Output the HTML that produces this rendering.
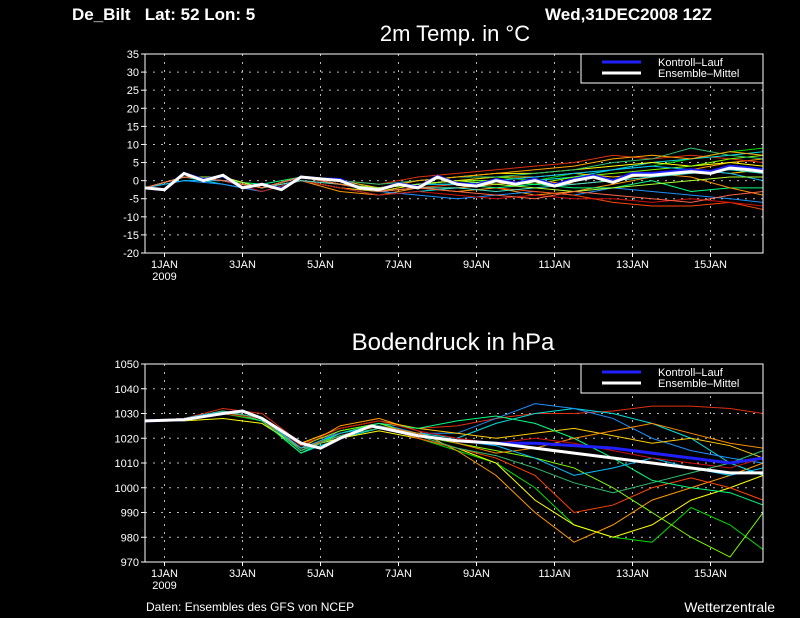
<!DOCTYPE html>
<html><head><meta charset="utf-8"><style>
body{margin:0;background:#000;width:800px;height:618px;overflow:hidden}
svg{display:block}
text{font-family:"Liberation Sans","DejaVu Sans",sans-serif;fill:#fff}
</style></head><body>
<svg id="chart" width="800" height="618">
<text x="72" y="20" font-size="17" font-weight="bold" style="white-space:pre">De_Bilt   Lat: 52 Lon: 5</text>
<text x="545" y="20" font-size="17" font-weight="bold">Wed,31DEC2008 12Z</text>
<text x="455" y="41" font-size="22" text-anchor="middle">2m Temp. in °C</text>
<text x="453" y="350" font-size="24" text-anchor="middle">Bodendruck in hPa</text>
<text x="146" y="611" font-size="12">Daten: Ensembles des GFS von NCEP</text>
<text x="775" y="612" font-size="14" text-anchor="end">Wetterzentrale</text>
<g id="p1"></g>
<g id="p2"></g>
</svg>
<script>
const tickDays=[0.5,2.5,4.5,6.5,8.5,10.5,12.5,14.5];
const tickLabels=["1JAN","3JAN","5JAN","7JAN","9JAN","11JAN","13JAN","15JAN"];
const memberDays=[0,1,2,3,4,5,6,7,8,9,10,11,12,13,14,15,15.85];
const memberColors=["#00e000","#ff9900","#e03010","#00e0e0","#ffff00","#1e90ff","#ff4500","#80ff00","#ffcc00","#00ff80","#ff8c00","#00bfff","#d01010","#30c070","#ffa500","#40e0d0","#adff2f","#ff6347"];
const tempTicks=[35,30,25,20,15,10,5,0,-5,-10,-15,-20];
const tempMeanDays=[0,0.5,1,1.5,2,2.5,3,3.5,4,4.5,5,5.5,6,6.5,7,7.5,8,8.5,9,9.5,10,10.5,11,11.5,12,12.5,13,13.5,14,14.5,15,15.5,15.85];
const tempMean=[-2,-2.5,2,0,1.5,-2,-1,-2.5,1,0.5,0,-2,-2.5,-1,-2,1,-1,-1.5,0,-1,0,-1.5,0,1,-0.5,1.5,1.5,2,2.5,2,3.5,3,2.5];
const tempControl=[-2,-2.5,2,0.3,1.3,-2,-1,-2.3,1,0.5,0.3,-2,-2.5,-0.8,-1.8,1.2,-0.8,-1.2,0.3,-0.7,0.4,-1.2,0.4,1.4,0,2,2,2.5,3,2.5,4,3.5,3];
const tempMembers=[
[-2,1,0,-2,1,-1,-3,-1,0,1,0,2,3,4,6,8,9],
[-2,1,0,-2,0,-3,-4,-2,-3,-2,-4,-3,-1,1,3,5,6],
[-2,1,1,-2,1,0,-1,1,2,3,4,5,7,6,7,6,5],
[-2,1,-1,-3,0,-2,-4,-3,-2,-1,0,1,3,5,6,7,8],
[-2,1,0,-2,1,-1,-2,0,1,2,2,3,4,5,4,5,4],
[-2,0,-1,-3,0,-2,-3,-4,-5,-4,-3,-4,-2,-3,-4,-5,-6],
[-2,1,0,-2,0,-1,-3,-2,-1,-2,-3,-4,-6,-7,-7,-6,-8],
[-2,1,0,-2,1,-1,-2,-1,0,0,-1,1,2,3,4,6,7],
[-2,1,0,-2,0,-2,-3,-1,0,1,1,2,1,2,3,2,3],
[-2,1,0,-1,1,0,-2,-1,-1,-2,-1,-2,-2,0,-3,-2,-2],
[-2,1,1,-2,1,-1,-3,-2,-2,-1,0,-1,0,2,1,-2,-4],
[-2,0,0,-2,1,-1,-2,-1,-1,0,1,2,3,4,3,2,0],
[-2,1,0,-3,0,-2,-4,-3,-4,-5,-4,-5,-5,-6,-5,-6,-7],
[-2,1,0,-2,1,0,-1,0,1,1,2,3,5,6,9,7,6],
[-2,1,0,-2,1,0,-2,0,1,2,3,4,6,7,6,8,7],
[-2,1,0,-2,0,-1,-3,-2,-2,-3,-2,-1,0,1,2,3,2],
[-2,1,1,-2,1,-1,-2,-1,0,-1,-2,-3,-2,-1,0,1,1],
[-2,1,0,-2,1,-1,-3,-2,-3,-4,-5,-3,-4,-5,-6,-4,-3]];
const presTicks=[1050,1040,1030,1020,1010,1000,990,980,970];
const presMeanDays=[0,1,2,2.5,3,4,4.5,5,5.8,7,8,9,10,11,12,13,14,15,15.85];
const presMean=[1027,1027.5,1030,1031,1028,1018,1016,1020,1025,1021,1019,1018,1016,1014,1012,1010,1008,1006,1006];
const presControl=[1027,1027.5,1030,1031,1028,1018,1016,1020,1025,1021,1019,1018,1018,1017,1016,1014,1012,1010,1012];
const presMembers=[
[1027,1028,1030,1027,1015,1022,1025,1020,1015,1010,1000,985,980,978,992,985,975],
[1027,1028,1031,1028,1016,1025,1028,1023,1015,1005,990,978,985,995,1000,1005,1010],
[1027,1028,1032,1030,1018,1022,1026,1024,1025,1028,1030,1030,1031,1033,1033,1032,1030],
[1027,1027,1031,1027,1014,1020,1024,1022,1020,1026,1030,1032,1030,1026,1020,1010,1005],
[1027,1027,1028,1026,1016,1020,1023,1020,1016,1010,995,985,980,985,995,1000,1005],
[1027,1028,1031,1028,1015,1023,1026,1022,1022,1028,1034,1032,1028,1020,1015,1012,1010],
[1027,1028,1031,1027,1016,1021,1025,1020,1016,1012,1005,990,993,1000,1004,1000,995],
[1027,1028,1030,1028,1017,1023,1026,1021,1018,1015,1012,1008,1000,990,980,972,990],
[1027,1027,1030,1028,1018,1024,1027,1024,1022,1020,1022,1024,1021,1018,1020,1017,1012],
[1027,1028,1031,1027,1014,1022,1026,1024,1027,1029,1026,1020,1012,1003,1000,998,993],
[1027,1028,1031,1028,1015,1021,1025,1022,1018,1014,1016,1020,1023,1026,1022,1018,1016],
[1027,1028,1031,1028,1016,1022,1025,1021,1019,1017,1012,1005,1008,1012,1008,1005,1008],
[1027,1028,1030,1028,1017,1024,1027,1023,1020,1018,1020,1018,1015,1012,1010,1008,1012],
[1027,1027,1031,1028,1015,1021,1024,1021,1016,1013,1008,1002,998,1002,1006,1010,1015]];

const NS="http://www.w3.org/2000/svg";
const X0=145,X1=763,DAY=39;
function xs(t){return X0+t*DAY;}
function mk(tag,attrs,parent){const e=document.createElementNS(NS,tag);for(const k in attrs)e.setAttribute(k,attrs[k]);parent.appendChild(e);return e;}
function panel(g,top,bot,vmax,vmin,ticks,mean,meanDays,ctrl,members,prefix){
  const ys=v=>top+(vmax-v)/(vmax-vmin)*(bot-top);
  ticks.forEach(v=>{
    const y=ys(v);
    const gl=mk('line',{x1:X0,x2:X1,y1:y,y2:y,stroke:'#bbb','stroke-width':1,'stroke-dasharray':'2,6'},g);
    
    
    const tk=mk('line',{x1:X0-4,x2:X0,y1:y,y2:y,stroke:'#fff'},g);
    
    
    const t=mk('text',{x:X0-6,y:y+4,'font-size':11,'text-anchor':'end'},g);t.textContent=v;
    
    
  });
  tickDays.forEach((d,i)=>{
    const x=xs(d);
    const gl=mk('line',{x1:x,x2:x,y1:top,y2:bot,stroke:'#bbb','stroke-width':1,'stroke-dasharray':'2,6'},g);
    
    
    const tk=mk('line',{x1:x,x2:x,y1:bot,y2:bot+4,stroke:'#fff'},g);
    
    
    const t=mk('text',{x:x,y:bot+15,'font-size':11,'text-anchor':'middle'},g);t.textContent=tickLabels[i];
    
    
  });
  const yr=mk('text',{x:xs(0.5),y:bot+27,'font-size':11,'text-anchor':'middle'},g);yr.textContent="2009";
  
  
  members.forEach((m,i)=>{
    const pl=mk('polyline',{points:m.map((v,j)=>xs(memberDays[j])+','+ys(v)).join(' '),fill:'none',stroke:memberColors[i%memberColors.length],'stroke-width':1},g);
    
    
  });
  const c=mk('polyline',{points:ctrl.map((v,j)=>xs(meanDays[j])+','+ys(v)).join(' '),fill:'none',stroke:'#2020ff','stroke-width':3},g);
  
  
  const mn=mk('polyline',{points:mean.map((v,j)=>xs(meanDays[j])+','+ys(v)).join(' '),fill:'none',stroke:'#fff','stroke-width':3},g);
  
  
  const fr=mk('rect',{x:X0,y:top,width:X1-X0,height:bot-top,fill:'none',stroke:'#fff','stroke-width':1},g);
  
  
  const lg=mk('g',{},g);
  
  
  mk('rect',{x:581,y:top,width:182,height:29,fill:'#000',stroke:'#fff'},lg);
  mk('line',{x1:602,x2:641,y1:top+8,y2:top+8,stroke:'#2020ff','stroke-width':3},lg);
  mk('line',{x1:602,x2:641,y1:top+19,y2:top+19,stroke:'#fff','stroke-width':3},lg);
  const l1=mk('text',{x:658,y:top+12,'font-size':11},lg);l1.textContent="Kontroll\u2013Lauf";
  
  
  const l2=mk('text',{x:658,y:top+23,'font-size':11},lg);l2.textContent="Ensemble\u2013Mittel";
  
  
}
panel(document.getElementById('p1'),54,253,35,-20,tempTicks,tempMean,tempMeanDays,tempControl,tempMembers,'temp');
panel(document.getElementById('p2'),364,562,1050,970,presTicks,presMean,presMeanDays,presControl,presMembers,'pres');
</script>
</body></html>
